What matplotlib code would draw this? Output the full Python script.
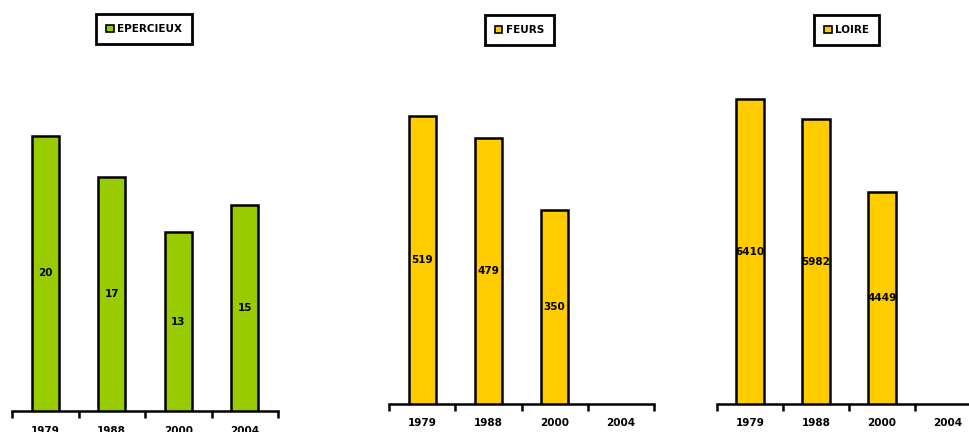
import matplotlib.pyplot as plt
from matplotlib.patches import Patch

years = ["1979", "1988", "2000", "2004"]
epercieux = [20, 17, 13, 15]
feurs = [519, 479, 350, None]
loire = [6410, 5982, 4449, None]

GREEN = "#99CC00"
YELLOW = "#FFCC00"

W, H = 970, 432
fig = plt.figure(figsize=(W / 100, H / 100), dpi=100)
plt.rcParams["font.family"] = ["DejaVu Sans"]


def panel(name, values, color, left, right, base, top_px, legend_box, pad):
    # top_px: pixel row where the largest value should reach
    ax_top = 40
    vmax = max(v for v in values if v is not None)
    ymax = vmax * (base - ax_top) / (base - top_px)
    ax = fig.add_axes([left / W, (H - base) / H, (right - left) / W, (base - ax_top) / H])
    xs = [i for i, v in enumerate(values) if v is not None]
    vs = [v for v in values if v is not None]
    bars = ax.bar(xs, vs, width=0.41, color=color, edgecolor="black", linewidth=1.8, zorder=3)
    for b, v in zip(bars, vs):
        ax.text(b.get_x() + b.get_width() / 2, v / 2, str(v), ha="center", va="center",
                fontsize=7.5, fontweight="bold", zorder=4)
    ax.set_xlim(-0.5, 3.5)
    ax.set_ylim(0, ymax)
    for s in ["top", "right", "left"]:
        ax.spines[s].set_visible(False)
    ax.spines["bottom"].set_linewidth(1.8)
    ax.set_yticks([])
    ax.set_xticks(range(len(years)))
    ax.set_xticklabels(years, fontsize=7.5, fontweight="bold")
    ax.tick_params(axis="x", which="major", length=0, pad=pad)
    ax.set_xticks([i - 0.5 for i in range(len(years) + 1)], minor=True)
    ax.tick_params(axis="x", which="minor", length=5, width=1.8, direction="out")
    lx0, ly0, lx1, ly1 = legend_box
    leg = fig.legend(handles=[Patch(facecolor=color, edgecolor="black", linewidth=1.2, label=name)],
                     loc="center", bbox_to_anchor=((lx0 + lx1) / 2 / W, 1 - (ly0 + ly1) / 2 / H),
                     frameon=True, fancybox=False, framealpha=1, handlelength=0.7, handleheight=0.7,
                     handletextpad=0.3, borderpad=1.0, prop={"weight": "bold", "size": 7.5})
    leg.get_frame().set_edgecolor("black")
    leg.get_frame().set_linewidth(2)
    return ax


panel("EPERCIEUX", epercieux, GREEN, 12, 278, 411, 136, (93, 14, 195, 44), 11)
panel("FEURS", feurs, YELLOW, 389, 654, 404, 116, (483, 14, 556, 46), 10)
panel("LOIRE", loire, YELLOW, 717, 981, 404, 99, (813, 14, 880, 46), 10)

fig.savefig("out.png", dpi=100)
